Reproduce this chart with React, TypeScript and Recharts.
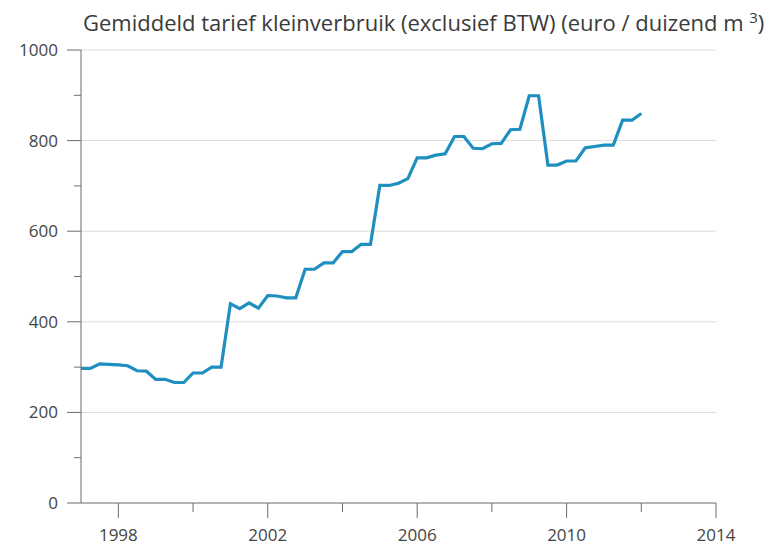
import { LineChart, Line, XAxis, YAxis, CartesianGrid } from 'recharts'

// quarterly average gas tariff, small consumers, excl. VAT (euro per 1000 m3)
const periods = [
  '1997K1', '1997K2', '1997K3', '1997K4',
  '1998K1', '1998K2', '1998K3', '1998K4',
  '1999K1', '1999K2', '1999K3', '1999K4',
  '2000K1', '2000K2', '2000K3', '2000K4',
  '2001K1', '2001K2', '2001K3', '2001K4',
  '2002K1', '2002K2', '2002K3', '2002K4',
  '2003K1', '2003K2', '2003K3', '2003K4',
  '2004K1', '2004K2', '2004K3', '2004K4',
  '2005K1', '2005K2', '2005K3', '2005K4',
  '2006K1', '2006K2', '2006K3', '2006K4',
  '2007K1', '2007K2', '2007K3', '2007K4',
  '2008K1', '2008K2', '2008K3', '2008K4',
  '2009K1', '2009K2', '2009K3', '2009K4',
  '2010K1', '2010K2', '2010K3', '2010K4',
  '2011K1', '2011K2', '2011K3', '2011K4',
  '2012K1',
]

const tariff = [
  297, 297, 307, 306,
  305, 303, 292, 291,
  273, 273, 266, 266,
  287, 287, 300, 300,
  440, 429, 442, 430,
  458, 457, 453, 453,
  516, 516, 530, 530,
  555, 555, 571, 571,
  701, 701, 706, 716,
  762, 762, 768, 771,
  809, 809, 783, 782,
  793, 794, 824, 825,
  899, 899, 746, 746,
  755, 755, 784, 787,
  790, 790, 845, 845,
  860,
]

const xTicks = [1998, 2000, 2002, 2004, 2006, 2008, 2010, 2012, 2014]
const xLabels = [1998, 2002, 2006, 2010, 2014]
const yTicks = [0, 100, 200, 300, 400, 500, 600, 700, 800, 900, 1000]
const yLabels = [0, 200, 400, 600, 800, 1000]

const data = periods.map((p, i) => ({
  t: Number(p.slice(0, 4)) + (Number(p.slice(5)) - 1) / 4,
  tarief: tariff[i],
}))

const AXIS = '#6b6b6b'
const TEXT = '#454545'
const FONT = '"Open Sans", "Noto Sans", sans-serif'

function XTick(props: any) {
  const { x, y, payload } = props
  const major = xLabels.includes(payload.value)
  return (
    <g>
      <line x1={x} x2={x} y1={y} y2={y + (major ? 15 : 9)} stroke={AXIS} strokeWidth={1} />
      {major && (
        <text x={x} y={y + 38} textAnchor="middle" fill={TEXT} fontSize={17} fontFamily={FONT}>
          {payload.value}
        </text>
      )}
    </g>
  )
}

function YTick(props: any) {
  const { x, y, payload } = props
  const major = yLabels.includes(payload.value)
  return (
    <g>
      <line x1={x - (major ? 14 : 7)} x2={x} y1={y} y2={y} stroke={AXIS} strokeWidth={1} />
      {major && (
        <text x={x - 23} y={y + 6} textAnchor="end" fill={TEXT} fontSize={17} fontFamily={FONT}>
          {payload.value}
        </text>
      )}
    </g>
  )
}

export default function App() {
  return (
    <div style={{ position: 'absolute', left: 0, top: 0, width: 771, height: 548, background: '#fff' }}>
      <div
        style={{
          position: 'absolute',
          left: 83,
          top: 8,
          fontFamily: FONT,
          fontSize: 22,
          lineHeight: '28px',
          color: '#3a3a3a',
          whiteSpace: 'nowrap',
        }}
      >
        Gemiddeld tarief kleinverbruik (exclusief BTW) (euro / duizend m{' '}
        <sup style={{ fontSize: 15, lineHeight: 0 }}>3</sup>)
      </div>
      <LineChart width={771} height={548} data={data} margin={{ top: 50, right: 55, bottom: 5, left: 21 }}>
        <CartesianGrid vertical={false} horizontalValues={[200, 400, 600, 800, 1000]} stroke="#dcdcdc" />
        <XAxis
          dataKey="t"
          type="number"
          domain={[1997, 2014]}
          ticks={xTicks}
          interval={0}
          height={40}
          tickSize={0}
          tickMargin={0}
          tickLine={false}
          tick={<XTick />}
          axisLine={{ stroke: AXIS }}
        />
        <YAxis
          type="number"
          domain={[0, 1000]}
          ticks={yTicks}
          interval={0}
          width={60}
          tickSize={0}
          tickMargin={0}
          tickLine={false}
          tick={<YTick />}
          axisLine={{ stroke: AXIS }}
        />
        <Line
          dataKey="tarief"
          type="linear"
          stroke="#1f8fc0"
          strokeWidth={3.2}
          dot={false}
          isAnimationActive={false}
        />
      </LineChart>
    </div>
  )
}
